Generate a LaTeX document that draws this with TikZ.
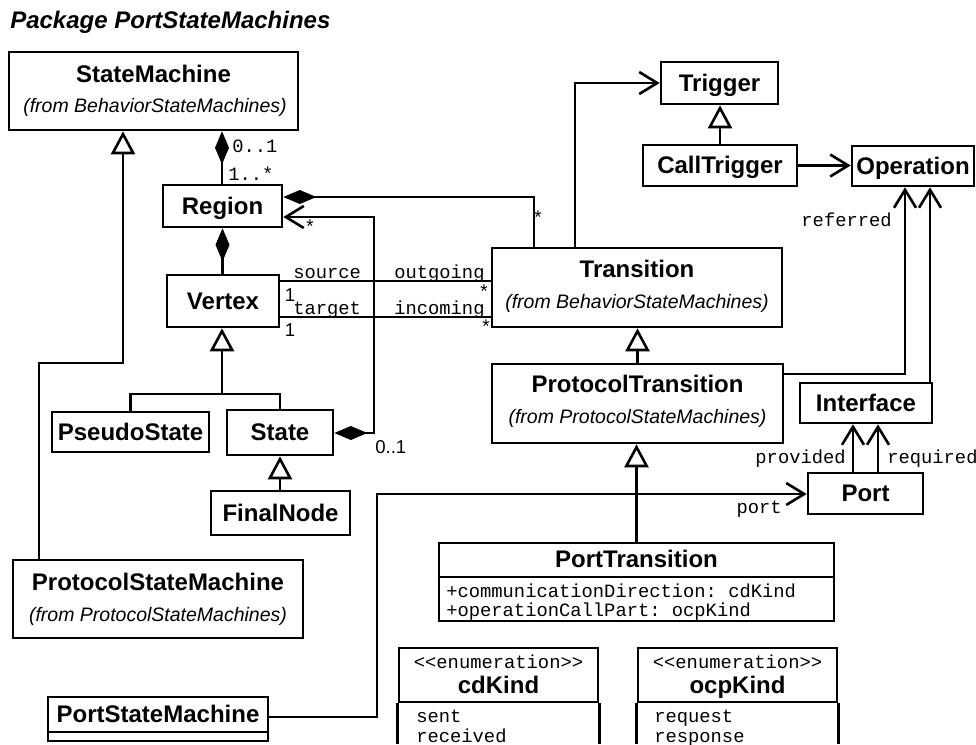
\documentclass[tikz,border=0pt]{standalone}
\usepackage{fontspec}
\setmainfont{Liberation Sans}
\setmonofont{Liberation Mono}
\usetikzlibrary{arrows.meta}
\begin{document}
\begin{tikzpicture}[x=1pt,y=-1pt,line width=2.6pt,
  bf/.style={font=\fontsize{24}{28}\selectfont\bfseries,inner sep=0pt},
  itl/.style={font=\fontsize{19.5}{23}\selectfont\itshape,inner sep=0pt},
  mono/.style={font=\fontsize{18.8}{20}\selectfont\ttfamily,inner sep=0pt},
  sans/.style={font=\fontsize{18.6}{20}\selectfont,inner sep=0pt},
  frame/.style={draw,line width=2.6pt,inner sep=0pt},
  cls/.style={frame,bf,text height=17pt,text depth=1pt},
  gen/.style={-{Triangle[length=23pt,width=24pt,fill=white]}},
  nav/.style={-{Straight Barb[length=18pt,width=22pt]}},
  comp/.style={{Diamond[length=33pt,width=14pt]}-},
]
\useasboundingbox (0,0) rectangle (976,744);

\node[inner sep=0pt,anchor=base west,font=\fontsize{24}{28}\selectfont\bfseries\itshape] (title) at (9,28) {Package PortStateMachines};

% ---- classes with subtitle
\node[frame,minimum width=289pt,minimum height=78pt] (SM) at (153.5,91) {};
\node[bf,anchor=base] (SMt) at (153.5,82) {StateMachine};
\node[itl,anchor=base] (SMs) at (155,112) {(from BehaviorStateMachines)};

\node[frame,minimum width=290pt,minimum height=79pt] (Tr) at (637,287.5) {};
\node[bf,anchor=base] (Trt) at (637,277) {Transition};
\node[itl,anchor=base] (Trs) at (637,308) {(from BehaviorStateMachines)};

\node[frame,minimum width=291pt,minimum height=79pt] (PT) at (637.5,403.5) {};
\node[bf,anchor=base] (PTt) at (637.5,392) {ProtocolTransition};
\node[itl,anchor=base] (PTs) at (637.5,423) {(from ProtocolStateMachines)};

\node[frame,minimum width=290pt,minimum height=78pt] (PSM) at (158,599) {};
\node[bf,anchor=base] (PSMt) at (158,590) {ProtocolStateMachine};
\node[itl,anchor=base] (PSMs) at (158,621) {(from ProtocolStateMachines)};

% ---- simple classes
\node[cls,minimum width=119pt,minimum height=42pt] (Rg) at (222.5,206) {Region};
\node[cls,minimum width=112pt,minimum height=52pt] (Vx) at (223,301) {Vertex};
\node[cls,minimum width=157pt,minimum height=40pt] (PS) at (130.5,432) {PseudoState};
\node[cls,minimum width=106pt,minimum height=45pt] (St) at (280,432.5) {State};
\node[cls,minimum width=139pt,minimum height=44pt] (FN) at (280.5,513) {FinalNode};
\node[cls,minimum width=117pt,minimum height=42pt] (Tg) at (719.5,83) {Trigger};
\node[cls,minimum width=154pt,minimum height=41pt] (CT) at (720,165.5) {CallTrigger};
\node[cls,minimum width=122pt,minimum height=40pt] (Op) at (913,166) {Operation};
\node[cls,minimum width=132pt,minimum height=40pt] (If) at (866,403) {Interface};
\node[cls,minimum width=115pt,minimum height=41pt] (Pt) at (865.5,493.5) {Port};

% ---- PortStateMachine
\node[frame,minimum width=220pt,minimum height=44pt] (PoSM) at (158,719) {};
\node[bf,anchor=base] (PoSMt) at (158,722) {PortStateMachine};
\draw (PoSM.west |- 0,732) -- (PoSM.east |- 0,732);

% ---- PortTransition
\node[frame,minimum width=395pt,minimum height=78pt] (PTr) at (636.5,582) {};
\node[bf,anchor=base] (PTrt) at (636.5,567) {PortTransition};
\draw (PTr.west |- 0,577) -- (PTr.east |- 0,577);
\node[mono,anchor=base west] (a1) at (445,597) {+communicationDirection: cdKind};
\node[mono,anchor=base west] (a2) at (445,616) {+operationCallPart: ocpKind};

% ---- enumerations
\node[frame,minimum width=199pt,minimum height=54pt] (cd) at (498.5,675) {};
\node[mono,anchor=base] (cds) at (498.5,668) {<{}<enumeration>{}>};
\node[bf,anchor=base] (cdt) at (498.5,693) {cdKind};
\draw (cd.south west) -- (cd.south west |- 0,744);
\draw (cd.south east) -- (cd.south east |- 0,744);
\node[mono,anchor=base west] (cd1) at (415,722) {sent};
\node[mono,anchor=base west] (cd2) at (415,742) {received};

\node[frame,minimum width=199pt,minimum height=54pt] (ocp) at (737.5,675) {};
\node[mono,anchor=base] (ocps) at (737.5,668) {<{}<enumeration>{}>};
\node[bf,anchor=base] (ocpt) at (737.5,693) {ocpKind};
\draw (ocp.south west) -- (ocp.south west |- 0,744);
\draw (ocp.south east) -- (ocp.south east |- 0,744);
\node[mono,anchor=base west] (ocp1) at (653,722) {request};
\node[mono,anchor=base west] (ocp2) at (653,742) {response};

% ---- bend points
\coordinate (c1) at (39,363);
\coordinate (c2) at (123,363);
\coordinate (c3) at (222,0);
\coordinate (c4) at (0,197);
\coordinate (c5) at (534,197);
\coordinate (c6) at (374,433);
\coordinate (c7) at (374,217);
\coordinate (c8) at (222,394);
\coordinate (c9) at (0,281);
\coordinate (c9b) at (0,317);
\coordinate (c10) at (575,83);
\coordinate (c12) at (905,374);
\coordinate (c13) at (930,0);
\coordinate (c14) at (853,0);
\coordinate (c15) at (878,0);
\coordinate (c16) at (377,717);
\coordinate (c17) at (377,494);

% ---- connectors
\draw[gen] (c1 |- PSM.north) -- (c1) -- (c2) -- (c2 |- SM.south);
\draw[comp] (c3 |- SM.south) -- (c3 |- Rg.north);
\draw[comp] (Rg.south) -- (Rg.south |- Vx.north);
\draw[comp] (c4 -| Rg.east) -- (c5) -- (c5 |- Tr.north);
\draw[{Diamond[length=33pt,width=14pt]}-{Straight Barb[length=18pt,width=22pt]}] (St.east |- c6) -- (c6) -- (c7) -- (c7 -| Rg.east);
\draw (PS.north) |- (St.north |- c8) -- (St.north);
\draw[gen] (c8) -- (c8 |- Vx.south);
\draw[gen] (FN.north -| St.south) -- (St.south);
\draw (c9 -| Vx.east) -- (c9 -| Tr.west);
\draw (c9b -| Vx.east) -- (c9b -| Tr.west);
\draw[nav] (c10 |- Tr.north) -- (c10) -- (c10 -| Tg.west);
\draw[gen] (CT.north) -- (CT.north |- Tg.south);
\draw[nav] (CT.east) -- (CT.east -| Op.west);
\draw[nav] (c12 -| PT.east) -- (c12) -- (c12 |- Op.south);
\draw[nav] (c13 |- If.north) -- (c13 |- Op.south);
\draw[gen] (PT.north) -- (PT.north |- Tr.south);
\draw[gen] (PTr.north) -- (PTr.north |- PT.south);
\draw[nav] (c14 |- Pt.north) -- (c14 |- If.south);
\draw[nav] (c15 |- Pt.north) -- (c15 |- If.south);
\draw[nav] (c16 -| PoSM.east) -- (c16) -- (c17) -- (c17 -| Pt.west);

% ---- labels
\node[mono,anchor=base west] (m1) at (231,152) {0..1};
\node[mono,anchor=base west] (m2) at (227,180) {1..*};
\node[mono] (m3) at (310,227) {*};
\node[mono] (m4) at (538,218) {*};
\node[mono,anchor=base west] (r1) at (292,278) {source};
\node[mono,anchor=base west] (r2) at (393,278) {outgoing};
\node[mono,anchor=base west] (r3) at (292,314) {target};
\node[mono,anchor=base west] (r4) at (393,314) {incoming};
\node[sans] (m5) at (290,295) {1};
\node[sans] (m6) at (290,330) {1};
\node[mono] (m7) at (484,292) {*};
\node[mono] (m8) at (486,327) {*};
\node[sans,anchor=base west] (m9) at (374,453) {0..1};
\node[mono,anchor=base east] (r5) at (893,226) {referred};
\node[mono,anchor=base east] (r6) at (847,463) {provided};
\node[mono,anchor=base west] (r7) at (886,463) {required};
\node[mono,anchor=base east] (r8) at (783,513) {port};
\end{tikzpicture}
\end{document}
